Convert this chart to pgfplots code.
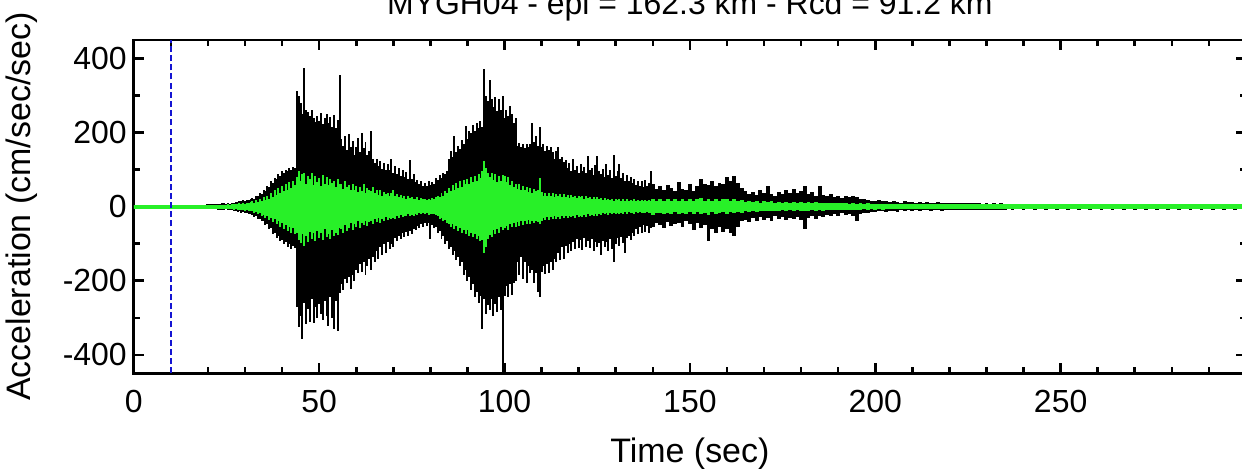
\documentclass[border=0pt]{standalone}
\usepackage{fontspec}
\setmainfont{Liberation Sans}
\usepackage{pgfplots}
\usepackage{pgfplotstable}
\pgfplotsset{compat=1.18}

% envelope of the two traces: t, black top/bottom, green top/bottom
% dense part, every 0.5 s
\pgfplotstableread{
t bt bb gt gb
25.0 8 -7 5 -6
25.5 9 -8 6 -5
26.0 8 -10 5 -7
26.5 11 -9 7 -6
27.0 10 -12 6 -8
27.5 13 -11 8 -7
28.0 12 -14 6 -9
28.5 15 -13 9 -8
29.0 14 -16 7 -10
29.5 17 -15 10 -9
30.0 16 -18 8 -11
30.5 19 -17 11 -10
31.0 18 -21 9 -12
31.5 22 -20 12 -11
32.0 24 -22 14 -12
32.5 22 -27 11 -16
33.0 30 -26 18 -15
33.5 28 -33 13 -21
34.0 36 -32 21 -18
34.5 34 -40 16 -26
35.0 45 -38 26 -22
35.5 42 -50 19 -30
36.0 55 -48 30 -25
36.5 52 -60 22 -36
37.0 68 -58 38 -30
37.5 64 -75 27 -42
38.0 78 -72 44 -34
38.5 74 -85 31 -48
39.0 88 -80 50 -40
39.5 84 -94 36 -55
40.0 95 -90 55 -45
40.5 90 -100 42 -60
41.0 100 -96 62 -50
41.5 96 -108 45 -66
42.0 104 -102 66 -54
42.5 100 -114 50 -70
43.0 108 -106 70 -58
43.5 105 -112 58 -75
44.0 312 -270 80 -70
44.5 300 -325 95 -90
45.0 280 -295 70 -98
45.5 250 -358 88 -75
46.0 375 -260 92 -105
46.5 262 -318 60 -80
47.0 255 -275 84 -95
47.5 245 -312 75 -68
48.0 262 -250 90 -88
48.5 238 -315 58 -72
49.0 228 -270 82 -92
49.5 245 -300 66 -66
50.0 232 -262 78 -84
50.5 252 -290 55 -70
51.0 222 -305 86 -90
51.5 240 -255 62 -60
52.0 250 -295 80 -82
52.5 226 -322 58 -74
53.0 242 -245 74 -88
53.5 215 -300 64 -62
54.0 248 -330 70 -80
54.5 212 -255 52 -70
55.0 235 -335 76 -76
55.5 355 -232 60 -58
56.0 182 -210 62 -60
56.5 165 -225 48 -72
57.0 190 -195 70 -50
57.5 152 -205 52 -66
58.0 195 -190 58 -58
58.5 160 -222 44 -44
59.0 178 -185 62 -62
59.5 140 -200 46 -48
60.0 160 -170 56 -54
60.5 185 -180 40 -40
61.0 148 -155 54 -58
61.5 198 -175 42 -44
62.0 158 -150 60 -50
62.5 175 -185 38 -38
63.0 140 -160 50 -52
63.5 150 -140 44 -42
64.0 204 -170 42 -40
64.5 128 -135 52 -48
65.0 118 -148 36 -34
65.5 130 -120 46 -42
66.0 110 -140 32 -30
66.5 124 -110 44 -45
67.0 102 -130 30 -32
67.5 118 -100 40 -38
68.0 98 -125 34 -28
68.5 115 -95 38 -36
69.0 100 -115 28 -30
69.5 130 -100 36 -34
70.0 92 -110 45 -30
70.5 110 -85 30 -34
71.0 88 -92 34 -26
71.5 104 -78 26 -30
72.0 84 -88 32 -22
72.5 98 -72 24 -28
73.0 80 -82 30 -24
73.5 94 -68 22 -26
74.0 76 -80 28 -20
74.5 127 -65 24 -25
75.0 74 -75 26 -22
75.5 88 -60 20 -24
76.0 66 -62 22 -20
76.5 72 -52 26 -23
77.0 60 -58 18 -18
77.5 68 -48 24 -21
78.0 56 -55 20 -17
78.5 64 -45 22 -20
79.0 55 -52 17 -18
79.5 70 -44 21 -22
80.0 58 -88 19 -19
80.5 66 -50 23 -21
81.0 62 -58 20 -20
81.5 78 -55 25 -23
82.0 72 -70 30 -26
82.5 85 -65 26 -32
83.0 78 -88 36 -30
83.5 92 -80 30 -38
84.0 88 -100 42 -36
84.5 95 -92 38 -44
85.0 130 -115 50 -46
85.5 150 -108 42 -54
86.0 135 -130 58 -48
86.5 190 -120 46 -60
87.0 148 -145 64 -52
87.5 165 -135 50 -66
88.0 155 -160 68 -58
88.5 180 -150 54 -70
89.0 170 -185 72 -62
89.5 217 -170 60 -74
90.0 182 -200 76 -64
90.5 205 -190 62 -78
91.0 198 -225 80 -70
91.5 220 -210 66 -82
92.0 205 -245 84 -74
92.5 225 -230 70 -88
93.0 212 -260 88 -80
93.5 230 -240 78 -92
94.0 215 -330 95 -90
94.5 372 -250 122 -124
95.0 300 -290 105 -110
95.5 285 -265 90 -88
96.0 342 -280 80 -76
96.5 290 -248 92 -82
97.0 270 -295 72 -62
97.5 295 -262 88 -75
98.0 258 -285 66 -60
98.5 290 -245 84 -70
99.0 262 -280 70 -56
99.5 300 -620 86 -64
100.0 240 -240 82 -58
100.5 262 -215 66 -52
101.0 245 -245 80 -62
101.5 272 -210 58 -48
102.0 250 -238 70 -56
102.5 225 -205 52 -44
103.0 238 -200 62 -55
103.5 165 -150 48 -42
104.0 172 -185 60 -52
104.5 162 -135 46 -40
105.0 168 -195 56 -50
105.5 158 -150 44 -38
106.0 170 -205 52 -48
106.5 160 -160 40 -36
107.0 168 -180 50 -46
107.5 225 -170 38 -40
108.0 175 -205 48 -44
108.5 190 -180 42 -38
109.0 165 -230 44 -42
109.5 215 -245 77 -46
110.0 160 -175 40 -38
110.5 168 -160 30 -30
111.0 150 -182 38 -36
111.5 165 -155 28 -28
112.0 152 -178 36 -35
112.5 160 -150 30 -27
113.0 148 -170 38 -34
113.5 130 -140 26 -26
114.0 150 -150 35 -33
114.5 160 -125 28 -28
115.0 128 -145 34 -32
115.5 135 -110 25 -25
116.0 120 -140 33 -31
116.5 125 -105 27 -26
117.0 105 -125 32 -30
117.5 118 -100 24 -24
118.0 95 -120 31 -29
118.5 128 -95 26 -25
119.0 100 -115 30 -30
119.5 110 -88 24 -23
120.0 92 -112 29 -28
120.5 115 -90 25 -24
121.0 95 -118 30 -27
121.5 108 -85 22 -22
122.0 90 -108 28 -28
122.5 136 -92 24 -21
123.0 98 -112 27 -26
123.5 105 -88 22 -22
124.0 86 -120 26 -25
124.5 112 -95 21 -21
125.0 138 -110 27 -24
125.5 95 -98 22 -20
126.0 88 -130 24 -22
126.5 102 -92 18 -18
127.0 80 -110 23 -21
127.5 115 -95 17 -17
128.0 85 -120 22 -22
128.5 98 -88 18 -16
129.0 78 -115 21 -20
129.5 140 -150 16 -17
130.0 82 -100 22 -21
130.5 95 -85 17 -16
131.0 115 -105 20 -19
131.5 78 -82 16 -16
132.0 90 -98 21 -20
132.5 70 -125 15 -15
133.0 85 -85 20 -19
133.5 68 -78 16 -15
134.0 80 -90 19 -18
134.5 65 -70 15 -16
135.0 74 -80 20 -19
135.5 58 -60 15 -15
136.0 70 -75 19 -18
136.5 55 -55 16 -15
137.0 68 -72 18 -17
137.5 52 -50 15 -16
138.0 72 -68 19 -18
138.5 56 -52 15 -15
139.0 65 -70 18 -17
139.5 95 -58 16 -16
}\dense

% quiet parts, every 1 s
\pgfplotstableread{
t bt bb gt gb
0 4 -4 5 -5
1 4 -4 5 -5
2 4 -4 5 -5
3 4 -4 5 -5
4 4 -4 5 -5
5 4 -4 5 -5
6 4 -4 5 -5
7 4 -4 5 -5
8 4 -4 5 -5
9 4 -4 5 -5
10 4 -4 5 -5
11 4 -4 5 -5
12 4 -4 5 -5
13 4 -4 5 -5
14 4 -4 5 -5
15 4 -4 5 -5
16 4 -4 5 -5
17 4 -4 5 -5
18 4 -4 5 -5
19 4 -4 5 -5
20 6 -5 5 -5
21 7 -6 5 -5
22 8 -7 5 -5
23 8 -8 5 -5
24 9 -8 5 -5
140 62 -55 20 -22
141 48 -45 15 -16
142 55 -50 22 -18
143 45 -58 14 -21
144 58 -42 21 -17
145 50 -52 15 -20
146 42 -48 20 -14
147 67 -44 16 -19
148 48 -55 22 -18
149 45 -40 14 -20
150 60 -48 21 -15
151 42 -62 16 -19
152 55 -45 20 -14
153 75 -58 23 -20
154 62 -50 15 -16
155 58 -92 22 -22
156 70 -60 16 -15
157 55 -72 21 -20
158 65 -55 15 -16
159 60 -68 20 -14
160 80 -60 22 -19
161 68 -72 15 -15
162 82 -78 21 -18
163 65 -55 15 -14
164 50 -40 18 -17
165 42 -35 13 -12
166 35 -42 16 -15
167 40 -30 12 -11
168 32 -38 15 -14
169 45 -28 11 -11
170 38 -35 15 -13
171 55 -30 12 -12
172 35 -38 14 -13
173 30 -26 11 -11
174 40 -34 13 -12
175 34 -28 10 -10
176 45 -36 13 -12
177 38 -30 11 -10
178 48 -32 13 -12
179 36 -28 10 -10
180 42 -35 13 -12
181 57 -60 11 -11
182 35 -30 12 -12
183 40 -26 10 -10
184 30 -32 12 -11
185 55 -24 10 -9
186 32 -28 11 -11
187 28 -22 9 -9
188 34 -26 11 -10
189 26 -20 9 -8
190 30 -24 11 -10
191 24 -18 9 -8
192 28 -22 10 -10
193 25 -20 8 -8
194 30 -24 10 -9
195 27 -39 8 -10
196 22 -20 9 -8
197 20 -18 7 -7
198 18 -16 9 -8
199 16 -15 7 -7
200 15 -14 8 -8
201 18 -13 7 -6
202 14 -12 7 -8
203 16 -14 6 -6
204 12 -11 7 -7
205 15 -12 6 -6
206 13 -14 7 -7
207 11 -10 6 -6
208 14 -12 7 -7
209 12 -10 6 -6
210 13 -11 7 -6
211 11 -10 6 -6
212 12 -11 7 -6
213 10 -9 6 -6
214 12 -10 6 -6
215 11 -12 6 -6
216 10 -9 6 -6
217 12 -10 6 -6
218 10 -11 6 -6
219 11 -9 6 -6
220 9 -10 6 -6
221 10 -9 6 -6
222 11 -10 6 -6
223 9 -8 6 -6
224 10 -9 6 -6
225 9 -10 6 -6
226 10 -8 6 -6
227 9 -9 6 -6
228 10 -9 6 -6
229 8 -8 6 -6
230 9 -9 6 -6
231 8 -8 6 -6
232 9 -8 6 -6
233 8 -9 6 -6
234 9 -8 6 -6
235 8 -8 6 -6
236 7 -7 6 -6
237 8 -8 6 -6
238 7 -7 6 -6
239 8 -7 6 -6
240 7 -8 6 -6
241 8 -7 6 -6
242 7 -7 6 -6
243 8 -8 6 -6
244 7 -7 6 -6
245 8 -7 6 -6
246 7 -8 6 -6
247 8 -7 6 -6
248 7 -7 6 -6
249 8 -8 6 -6
250 7 -7 6 -6
251 8 -7 6 -6
252 7 -8 6 -6
253 8 -7 6 -6
254 7 -7 6 -6
255 8 -8 6 -6
256 7 -7 6 -6
257 8 -7 6 -6
258 7 -8 6 -6
259 8 -7 6 -6
260 7 -7 6 -6
261 8 -8 6 -6
262 7 -7 6 -6
263 8 -7 6 -6
264 7 -8 6 -6
265 8 -7 6 -6
266 7 -7 6 -6
267 8 -8 6 -6
268 7 -7 6 -6
269 8 -7 6 -6
270 7 -8 6 -6
271 8 -7 6 -6
272 7 -7 6 -6
273 8 -8 6 -6
274 7 -7 6 -6
275 8 -7 6 -6
276 7 -8 6 -6
277 8 -7 6 -6
278 7 -7 6 -6
279 8 -8 6 -6
280 7 -7 6 -6
281 8 -7 6 -6
282 7 -8 6 -6
283 8 -7 6 -6
284 7 -7 6 -6
285 8 -8 6 -6
286 7 -7 6 -6
287 8 -7 6 -6
288 7 -8 6 -6
289 8 -7 6 -6
290 7 -7 6 -6
291 8 -8 6 -6
292 7 -7 6 -6
293 8 -7 6 -6
294 7 -8 6 -6
295 8 -7 6 -6
296 7 -7 6 -6
297 8 -8 6 -6
298 7 -7 6 -6
299 8 -7 6 -6
300 7 -7 6 -6
}\quiet

\definecolor{trace}{RGB}{0,0,0}
\definecolor{filt}{RGB}{40,240,40}
\definecolor{pick}{RGB}{20,20,210}

\begin{document}
\begin{tikzpicture}
\begin{axis}[
    name=ax,
    scale only axis,
    width=557pt, height=167pt,
    xmin=0, xmax=300,
    ymin=-450, ymax=450,
    xtick={0,50,...,250},
    minor xtick={10,20,...,290},
    ytick={-400,-200,...,400},
    minor ytick={-300,-100,100,300},
    tick align=inside,
    major tick length=5pt,
    minor tick length=3pt,
    every tick/.style={black, line width=1.3pt},
    axis line style={line width=1.4pt},
    /pgf/number format/assume math mode=true,
    ticklabel style={font=\fontsize{16}{16}\selectfont},
    xticklabel style={yshift=-5pt},
    label style={font=\fontsize{17}{17}\selectfont},
    xlabel={Time (sec)},
    ylabel={Acceleration (cm/sec/sec)},
    xlabel style={at={(axis description cs:0.5,-0.24)}, anchor=center},
    ylabel style={at={(axis description cs:-0.1005,0.5)}, anchor=center},
    title={MYGH04 - epi = 162.3 km - Rcd = 91.2 km},
    title style={font=\fontsize{16}{16}\selectfont, at={(axis description cs:0.5,1)}, anchor=center, yshift=11pt},
    clip=true,
]
\addplot[ycomb, trace, line width=1pt, no marks] table[x=t, y=bt] {\dense};
\addplot[ycomb, trace, line width=1pt, no marks] table[x=t, y=bb] {\dense};
\addplot[ycomb, trace, line width=1.9pt, no marks] table[x=t, y=bt] {\quiet};
\addplot[ycomb, trace, line width=1.9pt, no marks] table[x=t, y=bb] {\quiet};
\addplot[ycomb, filt, line width=1pt, no marks] table[x=t, y=gt] {\dense};
\addplot[ycomb, filt, line width=1pt, no marks] table[x=t, y=gb] {\dense};
\addplot[ycomb, filt, line width=1.9pt, no marks] table[x=t, y=gt] {\quiet};
\addplot[ycomb, filt, line width=1.9pt, no marks] table[x=t, y=gb] {\quiet};
\addplot[pick, line width=1pt, dash pattern=on 3pt off 1.6pt, no marks] coordinates {(10,-450) (10,450)};
\end{axis}
\pgfresetboundingbox
\path[use as bounding box] ([xshift=-67pt,yshift=-47.5pt]ax.south west) rectangle ([xshift=-2pt,yshift=20pt]ax.north east);
\end{tikzpicture}
\end{document}
